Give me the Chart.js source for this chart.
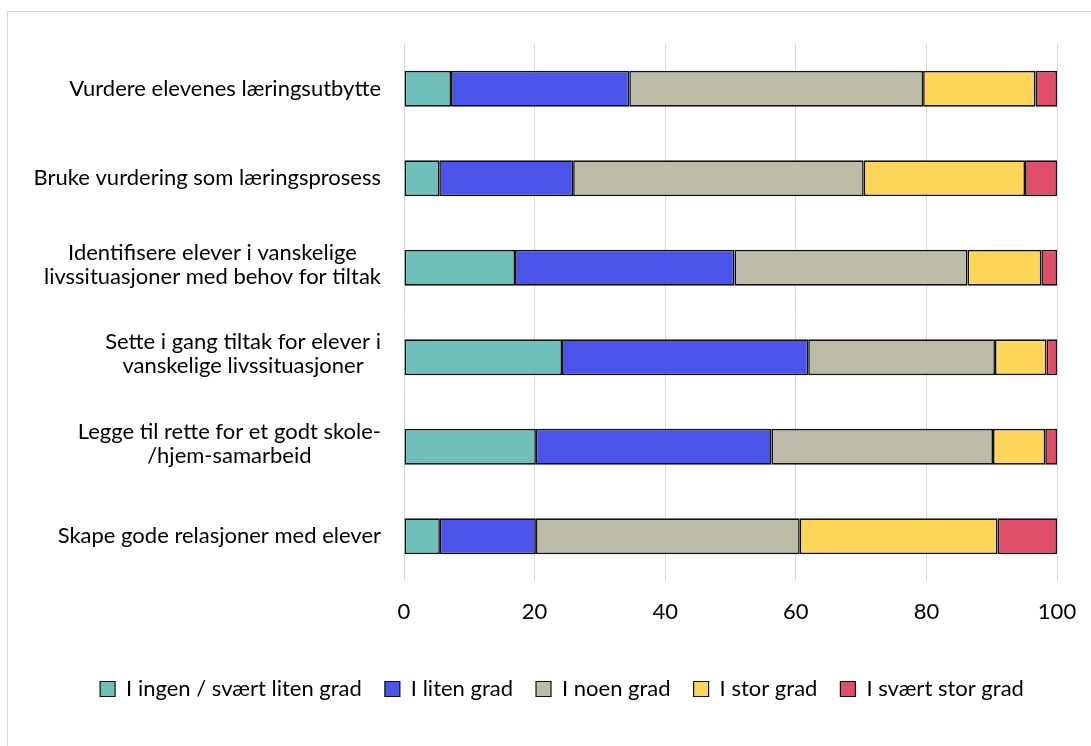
<!DOCTYPE html>
<html>
<head>
<meta charset="utf-8">
<script src="https://cdn.jsdelivr.net/npm/chart.js@4"></script>
<style>
  html, body { margin: 0; padding: 0; background: #fff; overflow: hidden; }
  #wrap { position: absolute; left: 0; top: 0; width: 1091px; height: 746px; }
  #frame { position: absolute; left: 7px; top: 11px; width: 1200px; height: 800px; border-left: 1px solid #d9d9d9; border-top: 1px solid #d9d9d9; box-sizing: border-box; }
  canvas { position: absolute; left: 0; top: 0; }
</style>
</head>
<body>
<div id="wrap">
  <div id="frame"></div>
  <canvas id="c" width="1091" height="746"></canvas>
</div>
<script>
const categories = [
  ["Vurdere elevenes læringsutbytte"],
  ["Bruke vurdering som læringsprosess"],
  ["Identifisere elever i vanskelige", "livssituasjoner med behov for tiltak"],
  ["Sette i gang tiltak for elever i", "vanskelige livssituasjoner"],
  ["Legge til rette for et godt skole-", "/hjem-samarbeid"],
  ["Skape gode relasjoner med elever"]
];
const seriesNames = ["I ingen / svært liten grad", "I liten grad", "I noen grad", "I stor grad", "I svært stor grad"];
const ingen   = [7.2, 5.4, 17.0, 24.2, 20.2, 5.5];
const liten   = [27.3, 20.5, 33.6, 37.7, 36.1, 14.7];
const noen    = [45.0, 44.5, 35.7, 28.6, 33.9, 40.4];
const stor    = [17.2, 24.7, 11.3, 7.9, 8.0, 30.3];
const svStor  = [3.3, 4.9, 2.4, 1.6, 1.8, 9.1];
const xTicks = [0, 20, 40, 60, 80, 100];
const colors = ["#70C0BA", "#4B53EB", "#BDBCA9", "#FED65A", "#DF4F69"];

const FONT = "Lato, 'Open Sans', sans-serif";
const FS = 22;
const seriesValues = [ingen, liten, noen, stor, svStor];

const labelPlugin = {
  id: 'catLabels',
  afterLayout(chart) {
    const lg = chart.legend;
    if (lg) { lg.left += 30; lg.right += 30; }
  },
  afterDraw(chart) {
    const ys = chart.scales.y;
    const ctx = chart.ctx;
    ctx.save();
    ctx.font = FS + "px " + FONT;
    ctx.fillStyle = "#000";
    ctx.textAlign = "center";
    ctx.textBaseline = "middle";
    const right = chart.chartArea.left - 23;
    const lh = 24;
    categories.forEach((lines, i) => {
      const y = ys.getPixelForValue(i);
      const w = Math.max(...lines.map(l => ctx.measureText(l).width));
      const cx = right - w / 2;
      lines.forEach((l, j) => {
        ctx.fillText(l, cx, y + (j - (lines.length - 1) / 2) * lh - (lines.length > 1 ? 3 : 0));
      });
    });
    ctx.restore();
  }
};

new Chart(document.getElementById('c'), {
  type: 'bar',
  data: {
    labels: categories.map(c => c.join(' ')),
    datasets: seriesNames.map((n, k) => ({
      label: n,
      data: seriesValues[k],
      backgroundColor: colors[k],
      borderColor: "#111",
      borderWidth: 1.6,
      borderSkipped: false,
      categoryPercentage: 1,
      barPercentage: 0.4
    }))
  },
  options: {
    indexAxis: 'y',
    responsive: false,
    animation: false,
    devicePixelRatio: 1,
    layout: { padding: { left: 7, right: 34, top: 44, bottom: 36 } },
    scales: {
      x: {
        stacked: true, min: 0, max: 100,
        afterBuildTicks(s) { s.ticks = xTicks.map(v => ({ value: v })); },
        grid: { color: "#d9d9d9", lineWidth: 1, drawTicks: false },
        border: { display: false },
        ticks: { font: { family: FONT, size: FS }, color: "#000", padding: 18 },
        afterFit(s) { s.height = 74; s.paddingRight = 0; s.paddingLeft = 0; }
      },
      y: {
        stacked: true,
        grid: { display: false },
        border: { display: false },
        ticks: { display: false },
        afterFit(s) { s.width = 404 - 7; }
      }
    },
    plugins: {
      legend: {
        position: 'bottom',
        labels: {
          font: { family: FONT, size: FS },
          color: "#000",
          boxWidth: 15, boxHeight: 15,
          padding: 23,
          generateLabels(chart) {
            return chart.data.datasets.map((d, i) => ({
              text: d.label, fillStyle: d.backgroundColor, strokeStyle: "#111",
              lineWidth: 1.2, datasetIndex: i, fontColor: "#000"
            }));
          }
        }
      },
      tooltip: { enabled: false }
    }
  },
  plugins: [labelPlugin]
});
</script>
</body>
</html>
